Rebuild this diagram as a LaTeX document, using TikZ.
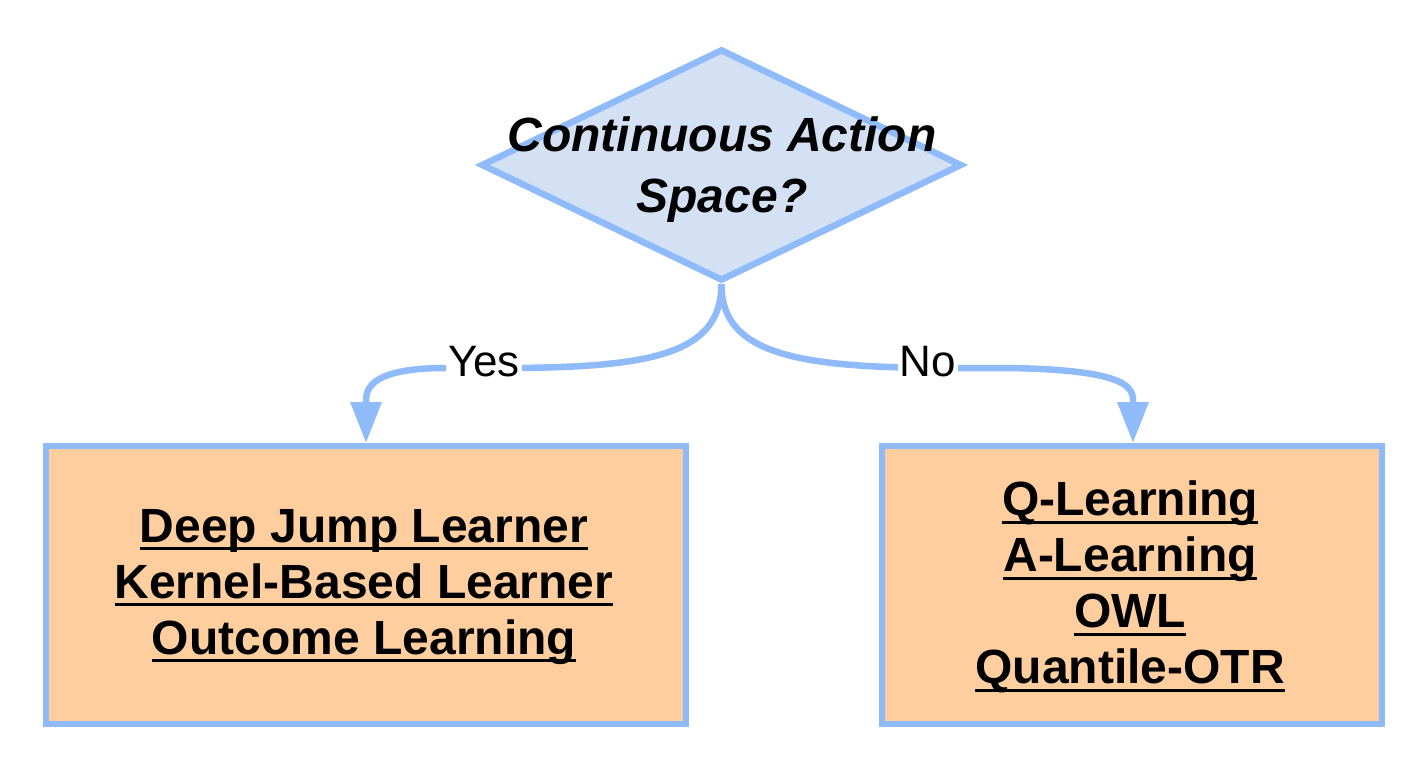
\documentclass[tikz,border=0pt]{standalone}
\usepackage{fontspec}
\setmainfont{Liberation Sans}
\usetikzlibrary{shapes.geometric,arrows.meta}
\definecolor{strokeblue}{RGB}{143,187,250}
\definecolor{diafill}{RGB}{212,225,245}
\definecolor{boxfill}{RGB}{255,206,159}
\newsavebox\ulbox
\newcommand{\ulx}[1]{\sbox\ulbox{#1}\rlap{\rule[-8pt]{\wd\ulbox}{3pt}}\usebox\ulbox}
\begin{document}
\begin{tikzpicture}[x=1pt,y=-1pt,
  decision/.style={diamond,draw=strokeblue,fill=diafill,line width=6.5pt,minimum width=481pt,minimum height=232pt,inner sep=0pt},
  method/.style={rectangle,draw=strokeblue,fill=boxfill,line width=6pt,inner sep=0pt},
  boxtext/.style={align=center,font=\fontsize{48pt}{56pt}\selectfont\bfseries,inner sep=0pt},
  edge/.style={draw=strokeblue,line width=6.5pt,-{Triangle[length=41pt,width=30pt]}},
  elabel/.style={fill=white,inner xsep=2pt,inner ysep=4pt,font=\fontsize{44pt}{50pt}\selectfont}]
\useasboundingbox (0,0) rectangle (1424,768);
\node[decision] (dia) at (721.5,165) {};
\node[align=center,font=\fontsize{48pt}{61pt}\selectfont\bfseries\itshape,inner sep=0pt] (diatext) at (722,170) {Continuous Action\\Space?};
\node[method,minimum width=640pt,minimum height=278pt] (lbox) at (366,585) {};
\node[method,minimum width=500pt,minimum height=278pt] (rbox) at (1132,585) {};
\node[boxtext] (ltext) at (364,587) {\ulx{Deep Jump Learner}\\\ulx{Kernel-Based Learner}\\\ulx{Outcome Learning}};
\node[boxtext] (rtext) at (1130,587) {\ulx{Q-Learning}\\\ulx{A-Learning}\\\ulx{OWL}\\\ulx{Quantile-OTR}};
\draw[edge] (dia.south) .. controls (721,355) and (650,368) .. (500,368)
  -- (440,368) .. controls (378,369) and (366,385) .. (366,400) -- (lbox.north);
\draw[edge] (dia.south) .. controls (721,355) and (800,368) .. (950,368)
  -- (1010,368) .. controls (1120,370) and (1133,385) .. (1133,400) -- (rbox.north -| 1133,0);
\node[elabel] (yes) at (484,362) {Yes};
\node[elabel] (no) at (928,362) {No};
\end{tikzpicture}
\end{document}
